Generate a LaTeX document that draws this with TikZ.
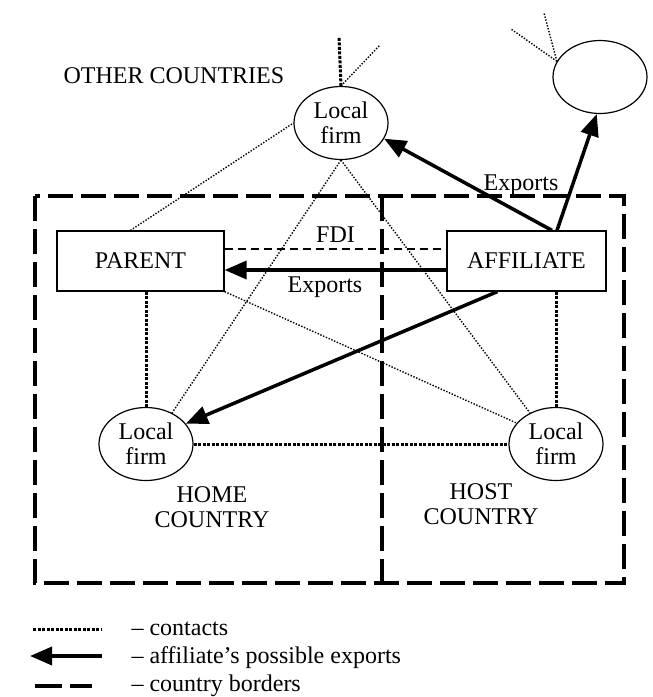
\documentclass[tikz,border=0pt]{standalone}
\usepackage{fontspec}
\setmainfont{Liberation Serif}
\usetikzlibrary{shapes.geometric,arrows.meta,calc}

\begin{document}
\begin{tikzpicture}[x=1pt,y=-1pt,font=\fontsize{24}{25}\selectfont,
    firm/.style={draw,ellipse,line width=1.2pt,minimum width=94pt,minimum height=73pt,inner sep=0pt,align=center},
    unit/.style={draw,rectangle,line width=1.2pt,minimum width=167pt,minimum height=60pt,inner sep=0pt},
    contact/.style={line width=3pt,dash pattern=on 3pt off 1.5pt},
    weakcontact/.style={line width=1.4pt,dash pattern=on 1.4pt off 1.6pt},
    export/.style={line width=3.5pt,-{Triangle[length=22pt,width=18pt]}},
    border/.style={line width=4pt,dash pattern=on 25pt off 8pt},
    fdi/.style={line width=2pt,dash pattern=on 8pt off 5pt}]
        \useasboundingbox (0,0) rectangle (653,697);
        % \draw[thin,gray!40] (0,0) grid[step=50] (653,697);
        \draw[border] (35,196) rectangle (624,583);
        \draw[border] (382,196)--(382,583);

        \node[unit] (parent) at (140.5,261) {PARENT};
        \node[unit,minimum width=159pt] (affiliate) at (526.5,261) {AFFILIATE};
        \node[firm] (other) at (341,123) {Local\\firm};
        \node[firm] (abroad) at (600,77) {};
        \node[firm] (home) at (146,444) {Local\\firm};
        \node[firm] (host) at (556,444) {Local\\firm};

        \coordinate (up1) at (339,37);
        \coordinate (up2) at (380,45);
        \coordinate (up3) at (544,13);
        \coordinate (up4) at (511,29);

        % contacts
        \draw[contact] (other.north)--(up1);
        \draw[weakcontact] (other.north)--(up2);
        \draw[weakcontact] (abroad.160)--(up3);
        \draw[weakcontact] (abroad.160)--(up4);
        \draw[weakcontact] ($(parent.north west)!0.44!(parent.north east)$)--(other.west);
        \draw[weakcontact] (other.south)--(home.50);
        \draw[weakcontact] (other.south)--(host.130);
        \draw[weakcontact] (parent.south east)--(host.152);
        \draw[contact] (parent.south -| home.north)--(home.north);
        \draw[contact] (affiliate.south -| host.north)--(host.north);
        \draw[contact] (home.east)--(host.west);

        % FDI and exports
        \draw[fdi] ($(parent.east)+(0,-12)$)--($(affiliate.west)+(0,-12)$) node[pos=0.5,anchor=base,yshift=7pt]{FDI};
        \draw[export] ($(affiliate.west)+(0,9)$)--($(parent.east)+(0,9)$);
        \node[anchor=base] (exlabel) at (325,292) {Exports};
        \draw[export] ($(affiliate.north)+(25.5,0)$)--(other.-20);
        \draw[export] ($(affiliate.north)+(30.5,0)$)--(abroad.-95);
        \node[anchor=base] (exlabel2) at (521,190) {Exports};
        \draw[export] ($(affiliate.south west)+(51,0)$)--(home.27);

        % labels
        \node[anchor=base west] (others) at (60,83) {OTHER COUNTRIES};
        \node[anchor=base,align=center] (homec) at (212,527) {HOME\\COUNTRY};
        \node[anchor=base,align=center] (hostc) at (481,524) {HOST\\COUNTRY};

        % legend
        \coordinate (l1a) at (33,629);
        \coordinate (l1b) at (102,629);
        \coordinate (l2a) at (102,656);
        \coordinate (l2b) at (30,656);
        \coordinate (l3a) at (35,686);
        \coordinate (l3b) at (92,686);
        \draw[contact] (l1a)--(l1b);
        \draw[export] (l2a)--(l2b);
        \draw[line width=4pt,dash pattern=on 27pt off 8pt] (l3a)--(l3b);
        \node[anchor=base west] (leg1) at (128,635) {-- contacts};
        \node[anchor=base west] (leg2) at (128,663) {-- affiliate’s possible exports};
        \node[anchor=base west] (leg3) at (128,691) {-- country borders};
      \end{tikzpicture}
\end{document}
